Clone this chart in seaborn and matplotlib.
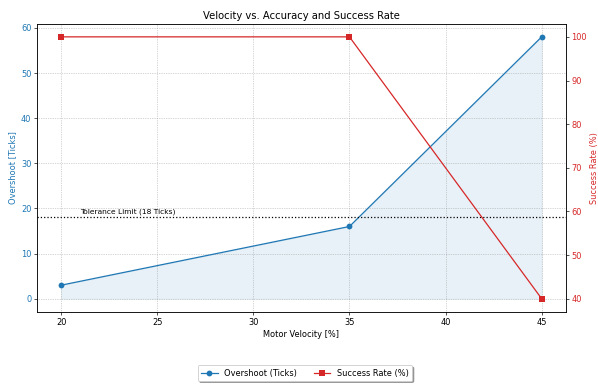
import matplotlib
matplotlib.use('Agg')
import pandas as pd
import seaborn as sns
import matplotlib.pyplot as plt

velocity = [20, 35, 45]
overshoot = [3, 16, 58]
success_rate = [100, 100, 40]
tolerance = 18

df = pd.DataFrame({'velocity': velocity, 'overshoot': overshoot, 'success': success_rate})

c1 = 'tab:blue'
c2 = 'tab:red'

fig, ax1 = plt.subplots(figsize=(10, 6.44), dpi=59.8)
fig.subplots_adjust(left=0.062, right=0.946, top=0.938, bottom=0.19)

sns.lineplot(data=df, x='velocity', y='overshoot', ax=ax1, color=c1, marker='o',
             markersize=7, markeredgewidth=0, label='Overshoot (Ticks)', legend=False)
ax1.fill_between(velocity, overshoot, color=c1, alpha=0.1)
ax1.axhline(tolerance, color='black', linestyle=':', linewidth=1.5)
ax1.text(21, 19, 'Tolerance Limit (18 Ticks)', fontsize=9)
ax1.set_xlabel('Motor Velocity [%]')
ax1.set_ylabel('Overshoot [Ticks]', color=c1)
ax1.tick_params(axis='y', labelcolor=c1)
ax1.grid(True, linestyle=':', color='gray', alpha=0.7)

ax2 = ax1.twinx()
sns.lineplot(data=df, x='velocity', y='success', ax=ax2, color=c2, marker='s',
             markersize=7, markeredgewidth=0, label='Success Rate (%)', legend=False)
ax2.set_ylabel('Success Rate (%)', color=c2)
ax2.tick_params(axis='y', labelcolor=c2)

ax1.set_title('Velocity vs. Accuracy and Success Rate', fontsize=12)

h1, l1 = ax1.get_legend_handles_labels()
h2, l2 = ax2.get_legend_handles_labels()
fig.legend(h1 + h2, l1 + l2, loc='lower center', bbox_to_anchor=(0.51, 0.0),
           ncol=2, shadow=True)

fig.savefig('out.png', dpi=59.8)
